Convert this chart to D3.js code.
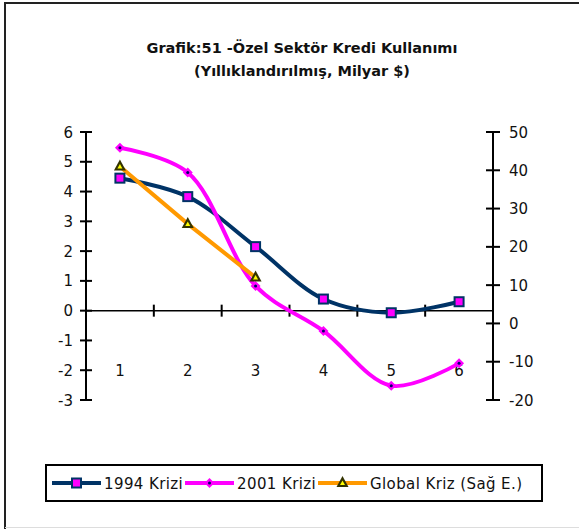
<!DOCTYPE html>
<html><head><meta charset="utf-8">
<script src="https://cdn.jsdelivr.net/npm/d3@7"></script>
<style>body{margin:0;background:#fff}svg{display:block}text{font-family:"DejaVu Sans",sans-serif}</style>
</head><body>
<svg id="c" width="579" height="529"></svg>
<script>
const categories = ["1","2","3","4","5","6"];
const krizi1994 = [4.45, 3.83, 2.15, 0.39, -0.07, 0.30];
const krizi2001 = [5.47, 4.64, 0.83, -0.68, -2.52, -1.77];
const globalKriz = [41, 26, 12];
const leftTicks = [-3,-2,-1,0,1,2,3,4,5,6];
const rightTicks = [-20,-10,0,10,20,30,40,50];
const titleLines = ["Grafik:51 -Özel Sektör Kredi Kullanımı", "(Yıllıklandırılmış, Milyar $)"];
const legendLabels = ["1994 Krizi", "2001 Krizi", "Global Kriz (Sağ E.)"];

const svg = d3.select("#c");
// outer frame
svg.append("line").attr("x1",5).attr("x2",5).attr("y1",2).attr("y2",529).attr("stroke","#222").attr("stroke-width",2);
svg.append("line").attr("x1",5).attr("x2",579).attr("y1",3).attr("y2",3).attr("stroke","#222").attr("stroke-width",2);
svg.append("line").attr("x1",5).attr("x2",579).attr("y1",527.5).attr("y2",527.5).attr("stroke","#ddd").attr("stroke-width",1);

// title
svg.selectAll("text.title").data(titleLines).enter().append("text")
  .attr("x",302).attr("y",(d,i)=>53+i*23).attr("text-anchor","middle")
  .attr("font-size",14.5).attr("font-weight","bold").attr("fill","#111").text(d=>d);

const L = 86, R = 493, T = 132, B = 400;
const x = d3.scaleBand().domain(categories).range([L,R]);
const yL = d3.scaleLinear().domain([-3,6]).range([B,T]);
const yR = d3.scaleLinear().domain([-20,50]).range([B,T]);

const g = svg.append("g");
// left axis
g.append("line").attr("x1",L).attr("x2",L).attr("y1",T).attr("y2",B).attr("stroke","#000").attr("stroke-width",2);
g.selectAll("line.lt").data(leftTicks).enter().append("line")
  .attr("x1",L-6).attr("x2",L+6).attr("y1",d=>yL(d)).attr("y2",d=>yL(d)).attr("stroke","#000").attr("stroke-width",2);
g.selectAll("text.lt").data(leftTicks).enter().append("text")
  .attr("x",L-13).attr("y",d=>yL(d)+5.5).attr("text-anchor","end").attr("font-size",15).attr("fill","#111").text(d=>d);
// right axis
g.append("line").attr("x1",R).attr("x2",R).attr("y1",T).attr("y2",B).attr("stroke","#000").attr("stroke-width",2);
g.selectAll("line.rt").data(rightTicks).enter().append("line")
  .attr("x1",R-7).attr("x2",R+7).attr("y1",d=>yR(d)).attr("y2",d=>yR(d)).attr("stroke","#000").attr("stroke-width",2);
g.selectAll("text.rt").data(rightTicks).enter().append("text")
  .attr("x",R+16).attr("y",d=>yR(d)+5.5).attr("text-anchor","start").attr("font-size",15).attr("fill","#111").text(d=>d);
// category axis at 0
const y0 = yL(0);
g.append("line").attr("x1",L).attr("x2",R).attr("y1",y0).attr("y2",y0).attr("stroke","#000").attr("stroke-width",1.5);
g.selectAll("line.xt").data(categories.slice(1)).enter().append("line")
  .attr("x1",d=>x(d)).attr("x2",d=>x(d)).attr("y1",y0-6).attr("y2",y0+6).attr("stroke","#000").attr("stroke-width",2);
g.selectAll("text.xt").data(categories).enter().append("text")
  .attr("x",d=>x(d)+x.bandwidth()/2).attr("y",376).attr("text-anchor","middle").attr("font-size",15).attr("fill","#111").text(d=>d);

const cx = d=>x(d)+x.bandwidth()/2;
const smooth = d3.curveCatmullRom.alpha(0.5);
const line94 = d3.line().x((d,i)=>cx(categories[i])).y(d=>yL(d)).curve(smooth);
g.append("path").attr("d",line94(krizi1994)).attr("fill","none").attr("stroke","#003366").attr("stroke-width",4);
g.append("path").attr("d",line94(krizi2001)).attr("fill","none").attr("stroke","#ff00ff").attr("stroke-width",4);
const lineG = d3.line().x((d,i)=>cx(categories[i])).y(d=>yR(d));
g.append("path").attr("d",lineG(globalKriz)).attr("fill","none").attr("stroke","#ff9900").attr("stroke-width",4);

function square(sel,px,py){
  sel.append("rect").attr("x",px-4.5).attr("y",py-4.5).attr("width",9).attr("height",9)
    .attr("fill","#ff00ff").attr("stroke","#003366").attr("stroke-width",2);
}
function diamond(sel,px,py){
  sel.append("path").attr("d",`M${px},${py-5}L${px+5},${py}L${px},${py+5}L${px-5},${py}Z`).attr("fill","#ff00ff");
  sel.append("circle").attr("cx",px).attr("cy",py).attr("r",1.5).attr("fill","#000066");
}
function tri(sel,px,py){
  sel.append("path").attr("d",`M${px},${py-7}L${px+6},${py+4}L${px-6},${py+4}Z`).attr("fill","#333300");
  sel.append("path").attr("d",`M${px},${py-2.5}L${px+2.5},${py+2}L${px-2.5},${py+2}Z`).attr("fill","#ffff00");
}
krizi1994.forEach((d,i)=>square(g,cx(categories[i]),yL(d)));
krizi2001.forEach((d,i)=>diamond(g,cx(categories[i]),yL(d)));
globalKriz.forEach((d,i)=>tri(g,cx(categories[i]),yR(d)));

// legend
const lg = svg.append("g");
lg.append("rect").attr("x",46).attr("y",465).attr("width",496).attr("height",36).attr("fill","#fff").attr("stroke","#000").attr("stroke-width",2);
const lx = [52,185,318];
const colors = ["#003366","#ff00ff","#ff9900"];
const ly = 483;
legendLabels.forEach((t,i)=>{
  lg.append("line").attr("x1",lx[i]).attr("x2",lx[i]+49).attr("y1",ly).attr("y2",ly).attr("stroke",colors[i]).attr("stroke-width",4);
  const mx = lx[i]+24.5;
  if(i===0) square(lg,mx,ly); else if(i===1) diamond(lg,mx,ly); else tri(lg,mx,ly);
  lg.append("text").attr("x",lx[i]+52).attr("y",ly+5.5).attr("font-size",15).attr("letter-spacing",0.4).attr("fill","#111").text(t);
});
</script>
</body></html>
